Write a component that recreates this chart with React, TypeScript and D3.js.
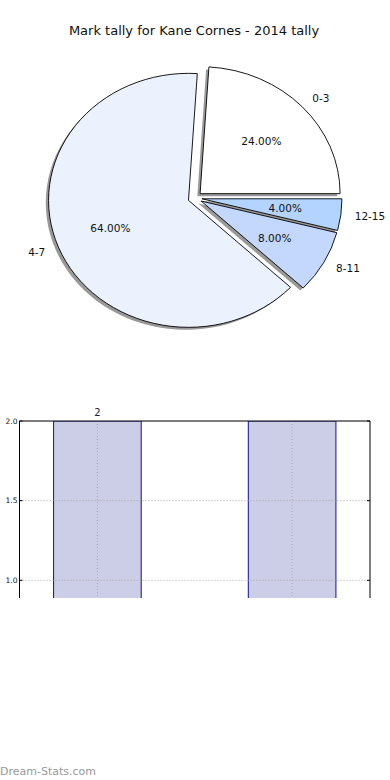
import React, { useEffect } from "react";
import * as d3 from "d3";

// pie data
const pieLabels = ["0-3", "4-7", "8-11", "12-15"];
const pieValues = [24, 64, 8, 4];
const pieColors = ["#ffffff", "#ebf1fd", "#c4d8fe", "#b2d4ff"];

// bar data (only the clipped part of the chart is visible)
const barCategories = ["A", "B"];
const barValues = [2, 2];
const barLabels = ["2", ""];
const yTicks = [1.0, 1.5, 2.0];

const W = 390;
const H = 780;
const FONT = "DejaVu Sans, sans-serif";

const App = () => {
  useEffect(() => {
    document.body.style.margin = "0";
  }, []);

  // pie geometry (ellipse because of unequal aspect)
  const cx = 195;
  const cy = 198;
  const rx = 140;
  const ry = 127;
  const explode = 0.05;

  // start at 3 o'clock, go counterclockwise like matplotlib
  const pie = d3
    .pie<number>()
    .sort(null)
    .startAngle(Math.PI / 2)
    .endAngle(Math.PI / 2 - 2 * Math.PI);
  const arcs = pie(pieValues);
  const arc = d3.arc<any>().innerRadius(0).outerRadius(1);
  const total = d3.sum(pieValues);

  // bar chart scales
  const plot = { left: 19.5, right: 370, top: 421, bottom: 598 };
  const xScale = d3.scaleLinear().domain([-0.4, 1.4]).range([plot.left, plot.right]);
  const yScale = d3.scaleLinear().domain([0.889, 2]).range([plot.bottom, plot.top]);
  const barW = xScale(0.45) - xScale(0);

  return (
    <svg width={W} height={H} style={{ display: "block", background: "#fff" }}>
      <text x={194} y={34.5} textAnchor="middle" fontFamily={FONT} fontSize={13} fill="#111">
        Mark tally for Kane Cornes - 2014 tally
      </text>

      {/* shadows */}
      {arcs.map((a, i) => {
        const mid = (a.startAngle + a.endAngle) / 2;
        const ox = Math.sin(mid) * explode * rx;
        const oy = -Math.cos(mid) * explode * ry;
        return (
          <path
            key={"s" + i}
            d={arc(a) as string}
            transform={`translate(${cx + ox - 2.8},${cy + oy + 2.5}) scale(${rx},${ry})`}
            fill="#000"
            fillOpacity={0.4}
            stroke="none"
          />
        );
      })}

      {/* wedges */}
      {arcs.map((a, i) => {
        const mid = (a.startAngle + a.endAngle) / 2;
        const ox = Math.sin(mid) * explode * rx;
        const oy = -Math.cos(mid) * explode * ry;
        return (
          <path
            key={"w" + i}
            d={arc(a) as string}
            transform={`translate(${cx + ox},${cy + oy}) scale(${rx},${ry})`}
            fill={pieColors[i]}
            stroke="#000"
            strokeWidth={0.9}
            vectorEffect="non-scaling-stroke"
            strokeLinejoin="round"
          />
        );
      })}

      {/* labels */}
      {arcs.map((a, i) => {
        const mid = (a.startAngle + a.endAngle) / 2;
        const sx = Math.sin(mid);
        const sy = -Math.cos(mid);
        const ox = cx + sx * explode * rx;
        const oy = cy + sy * explode * ry;
        return (
          <g key={"l" + i} fontFamily={FONT} fontSize={10.5} fill="#111">
            <text
              x={ox + sx * 1.1 * rx}
              y={oy + sy * 1.1 * ry}
              textAnchor={sx > 0 ? "start" : "end"}
              dominantBaseline="central"
            >
              {pieLabels[i]}
            </text>
            <text
              x={ox + sx * 0.6 * rx}
              y={oy + sy * 0.6 * ry}
              textAnchor="middle"
              dominantBaseline="central"
            >
              {((pieValues[i] / total) * 100).toFixed(2)}%
            </text>
          </g>
        );
      })}

      {/* bar chart */}
      <defs>
        <clipPath id="plotClip">
          <rect x={plot.left} y={plot.top} width={plot.right - plot.left} height={plot.bottom - plot.top} />
        </clipPath>
      </defs>
      <g clipPath="url(#plotClip)">
        {barValues.map((v, i) => (
          <rect
            key={barCategories[i]}
            x={xScale(i) - barW / 2}
            y={yScale(v)}
            width={barW}
            height={plot.bottom + 5 - yScale(v)}
            fill="#cccde6"
            stroke="#10109a"
            strokeWidth={1}
          />
        ))}
        {yTicks.map((t) => (
          <line
            key={"gy" + t}
            x1={plot.left}
            x2={plot.right}
            y1={yScale(t)}
            y2={yScale(t)}
            stroke="#aaa"
            strokeWidth={1}
            strokeDasharray="1,2"
          />
        ))}
        {barValues.map((_, i) => (
          <line
            key={"gx" + i}
            x1={xScale(i)}
            x2={xScale(i)}
            y1={plot.top}
            y2={plot.bottom}
            stroke="#aaa"
            strokeWidth={1}
            strokeDasharray="1,2"
          />
        ))}
      </g>
      {/* axes frame (bottom is cut off) */}
      <path
        d={`M${plot.left},${plot.bottom}V${plot.top}H${plot.right}V${plot.bottom}`}
        fill="none"
        stroke="#000"
        strokeWidth={1}
      />
      {yTicks.map((t) => (
        <g key={"t" + t}>
          <line x1={plot.left} x2={plot.left + 3} y1={yScale(t)} y2={yScale(t)} stroke="#000" />
          <line x1={plot.right - 3} x2={plot.right} y1={yScale(t)} y2={yScale(t)} stroke="#000" />
          <text
            x={plot.left - 2}
            y={yScale(t)}
            textAnchor="end"
            dominantBaseline="central"
            fontFamily={FONT}
            fontSize={7.5}
            fill="#111"
          >
            {t.toFixed(1)}
          </text>
        </g>
      ))}
      {barValues.map((v, i) =>
        barLabels[i] ? (
          <text
            key={"bl" + i}
            x={xScale(i)}
            y={yScale(v) - 5}
            textAnchor="middle"
            fontFamily={FONT}
            fontSize={10}
            fill="#1a1a4a"
          >
            {barLabels[i]}
          </text>
        ) : null
      )}

      <text x={0} y={775} fontFamily={FONT} fontSize={11} fill="#999">
        Dream-Stats.com
      </text>
    </svg>
  );
};

export default App;
